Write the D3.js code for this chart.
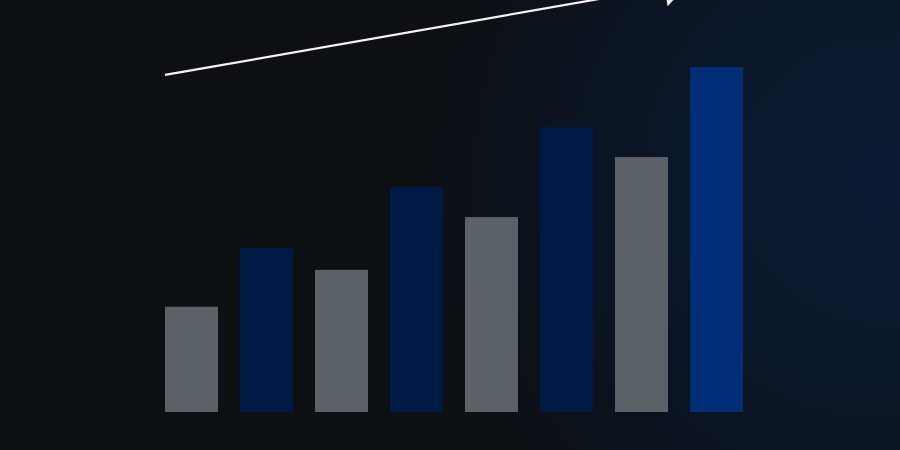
<!DOCTYPE html>
<html>
<head>
  <meta charset="utf-8">
  <title>Growth Bars</title>
  <script src="https://cdn.jsdelivr.net/npm/d3@7/dist/d3.min.js"></script>
</head>
<style>
  html, body { margin: 0; padding: 0; background: #0d0f13; overflow: hidden; }
</style>
<body>
  <svg width="900" height="450" id="chart"></svg>

  <script>

// data
const categories = ["1", "2", "3", "4", "5", "6", "7", "8"];
const values = [30.5, 47.5, 41.2, 65.2, 56.5, 82.6, 73.9, 100];
const kinds = ["grey", "blue", "grey", "blue", "grey", "blue", "grey", "bright"];

let colorMap = {
  "grey": "#5c6168",
  "blue": "#001a45",
  "bright": "#002d73"
};

let svg = d3.select("#chart");

// background with soft blue glow on the right
let defs = svg.append("defs");
let glow = defs.append("radialGradient")
  .attr("id", "bgGlow")
  .attr("gradientUnits", "userSpaceOnUse")
  .attr("cx", 880).attr("cy", 180).attr("r", 460);
glow.append("stop").attr("offset", "0%").attr("stop-color", "#0a1a33");
glow.append("stop").attr("offset", "45%").attr("stop-color", "#0b1629");
glow.append("stop").attr("offset", "100%").attr("stop-color", "#0d0f13");

svg.append("rect")
  .attr("width", 900).attr("height", 450)
  .attr("fill", "#0d0f13");
svg.append("rect")
  .attr("width", 900).attr("height", 450)
  .attr("fill", "url(#bgGlow)");

// scales
let x = d3.scaleBand()
  .domain(categories)
  .range([165, 743])
  .paddingInner(0.293)
  .paddingOuter(0);

let y = d3.scaleLinear()
  .domain([0, 100])
  .range([412, 67]);

// bars
svg.append("g").selectAll("rect")
  .data(categories)
  .enter()
  .append("rect")
  .attr("x", d => x(d))
  .attr("y", (d, i) => y(values[i]))
  .attr("width", x.bandwidth())
  .attr("height", (d, i) => y(0) - y(values[i]))
  .attr("fill", (d, i) => colorMap[kinds[i]]);

// trend arrow, runs off the top edge
let x0 = x(categories[0]);
let y0 = y(97.7);
let dx = 1, dy = -0.175;
let len = Math.hypot(dx, dy);
let ux = dx / len, uy = dy / len;
let tipX = 689;
let tipY = y0 + (tipX - x0) * dy;
let headL = 25, headW = 19;

svg.append("line")
  .attr("x1", x0).attr("y1", y0)
  .attr("x2", tipX - ux * headL * 0.8).attr("y2", tipY - uy * headL * 0.8)
  .attr("stroke", "#f4f4f4")
  .attr("stroke-width", 2.2);

let bx = tipX - ux * headL, by = tipY - uy * headL;
let nx = -uy, ny = ux;
svg.append("path")
  .attr("d", "M" + tipX + "," + tipY +
    "L" + (bx + nx * headW) + "," + (by + ny * headW) +
    "L" + (bx - nx * headW) + "," + (by - ny * headW) + "Z")
  .attr("fill", "#f4f4f4");

  </script>
</body>
</html>
